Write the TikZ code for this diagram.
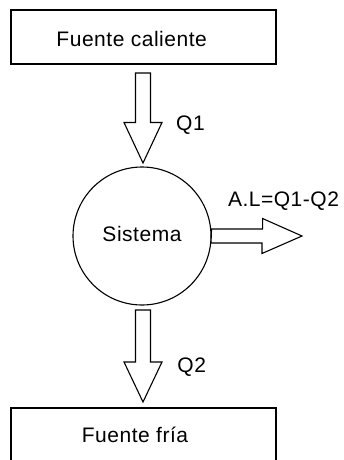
\documentclass[tikz,border=0pt]{standalone}
\usepackage{fontspec}
\setmainfont[LetterSpace=2.5]{Liberation Sans}
\begin{document}
\begin{tikzpicture}[x=1pt,y=-1pt,line width=1.1pt,
  box/.style={draw, minimum width=265pt, minimum height=54pt, inner sep=0pt},
  lbl/.style={inner sep=0pt, anchor=base, font=\fontsize{21pt}{24pt}\selectfont},
  blk/.style={draw, line join=miter, fill=white}]
\useasboundingbox (0,0) rectangle (343,460);
% boxes and system
\node[box] (hot) at (143.5,37) {};
\node[box] (cold) at (143.5,435) {};
\node[draw, circle, minimum size=138pt, inner sep=0pt] (sys) at (142,236) {};
% labels
\node[lbl] (thot) at (131.7,46) {Fuente caliente};
\node[lbl] (tcold) at (135,442.7) {Fuente fría};
\node[lbl] (tsys) at (142,241.7) {Sistema};
\node[lbl] (tq1) at (190.5,130.7) {Q1};
\node[lbl] (tq2) at (191.7,372.3) {Q2};
\node[lbl] (tal) at (283.5,206) {A.L=Q1-Q2};
% arrow anchor coordinates
\coordinate (a1) at (143,73);
\coordinate (a1tip) at (143,163);
\coordinate (a2) at (143,310);
\coordinate (a2tip) at (143,402);
\coordinate (a3tip) at (302,236);
% block arrows
\draw[blk] (a1) ++(-7.5,0) -- ++(15,0) -- ++(0,49.5) -- ++(11.5,0) -- (a1tip)
  -- ++(-19,-40.5) -- ++(11.5,0) -- cycle;
\draw[blk] (a2) ++(-7.5,0) -- ++(15,0) -- ++(0,52) -- ++(11.5,0) -- (a2tip)
  -- ++(-19,-40) -- ++(11.5,0) -- cycle;
\draw[blk] (sys.east) ++(0,-7) -- ++(51,0) -- ++(0,-10.5) -- (a3tip)
  -- ++(-40,17.5) -- ++(0,-10.5) -- ++(-51,0) -- cycle;
\end{tikzpicture}
\end{document}
